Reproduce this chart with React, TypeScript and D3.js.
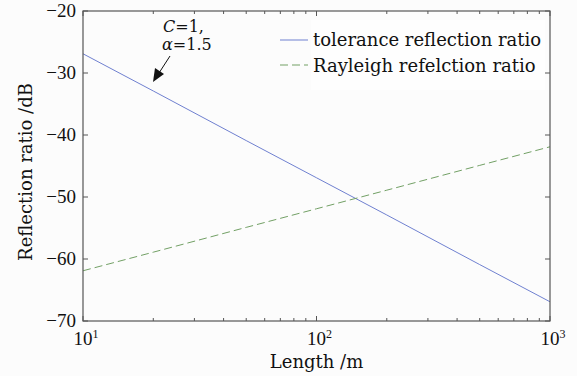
import * as d3 from 'd3';

const lengths = [10, 20, 50, 100, 200, 500, 1000];
const toleranceRatio = [-26.9, -32.9, -40.9, -46.9, -52.9, -60.9, -66.9];
const rayleighRatio = [-61.9, -58.9, -54.9, -51.9, -48.9, -44.9, -41.9];
const yTicks = [-70, -60, -50, -40, -30, -20];
const xTicks = [10, 100, 1000];
const seriesNames = ['tolerance reflection ratio', 'Rayleigh refelction ratio'];

const W = 577;
const H = 376;
const m = { left: 83, right: 27, top: 11, bottom: 55 };
const font = "'DejaVu Serif', 'Liberation Serif', serif";
const numFont = "'Liberation Serif', 'DejaVu Serif', serif";

export default function App() {
  const x = d3.scaleLog().domain([10, 1000]).range([m.left, W - m.right]);
  const y = d3.scaleLinear().domain([-70, -20]).range([H - m.bottom, m.top]);

  const line = d3
    .line<number>()
    .x((_, i) => x(lengths[i]))
    .y((d) => y(d));

  const minor: number[] = [];
  for (let dec = 10; dec < 1000; dec *= 10) {
    for (let k = 2; k <= 9; k++) minor.push(dec * k);
  }

  const x0 = x.range()[0];
  const x1 = x.range()[1];
  const y0 = y.range()[0];
  const y1 = y.range()[1];
  const axisColor = '#555';
  const fs = 18;

  return (
    <svg
      width={W}
      height={H}
      style={{ position: 'absolute', left: 0, top: 0, background: '#fcfcfc', fontFamily: font }}
    >
      <rect x={0} y={0} width={W} height={H} fill="#fcfcfc" />

      {/* legend backdrop */}
      <rect x={311} y={20} width={234} height={70} fill="#fefefe" />

      {/* series */}
      <path d={line(toleranceRatio) ?? ''} fill="none" stroke="#6f80d0" strokeWidth={1} />
      <path
        d={line(rayleighRatio) ?? ''}
        fill="none"
        stroke="#72a065"
        strokeWidth={1}
        strokeDasharray="8,4"
      />

      {/* frame */}
      <rect x={x0} y={y1} width={x1 - x0} height={y0 - y1} fill="none" stroke={axisColor} strokeWidth={1.2} />

      {/* y ticks */}
      {yTicks.map((t) => (
        <g key={'y' + t}>
          <line x1={x0} x2={x0 + 5} y1={y(t)} y2={y(t)} stroke={axisColor} />
          <line x1={x1} x2={x1 - 5} y1={y(t)} y2={y(t)} stroke={axisColor} />
          <text
            x={x0 - 7}
            y={y(t) + 6}
            textAnchor="end"
            fontSize={19}
            fill="#111"
            style={{ fontFamily: numFont }}
          >
            {'\u2212' + Math.abs(t)}
          </text>
        </g>
      ))}

      {/* x ticks */}
      {xTicks.map((t) => (
        <g key={'x' + t}>
          <line x1={x(t)} x2={x(t)} y1={y0} y2={y0 - 5} stroke={axisColor} />
          <line x1={x(t)} x2={x(t)} y1={y1} y2={y1 + 5} stroke={axisColor} />
          <text
            x={x(t) + 3}
            y={y0 + 24}
            textAnchor="middle"
            fontSize={19}
            fill="#111"
            style={{ fontFamily: numFont }}
          >
            10
            <tspan dy={-7} fontSize={12}>
              {Math.round(Math.log10(t))}
            </tspan>
          </text>
        </g>
      ))}
      {minor.map((t) => (
        <g key={'m' + t}>
          <line x1={x(t)} x2={x(t)} y1={y0} y2={y0 - 3} stroke={axisColor} />
          <line x1={x(t)} x2={x(t)} y1={y1} y2={y1 + 3} stroke={axisColor} />
        </g>
      ))}

      {/* axis labels */}
      <text x={(x0 + x1) / 2} y={368} textAnchor="middle" fontSize={fs} fill="#111">
        Length /m
      </text>
      <text
        transform={`translate(32,172) rotate(-90)`}
        textAnchor="middle"
        fontSize={fs}
        fill="#111"
      >
        Reflection ratio /dB
      </text>

      {/* legend */}
      {seriesNames.map((name, i) => (
        <g key={name}>
          <line
            x1={280}
            x2={308}
            y1={40 + i * 25}
            y2={40 + i * 25}
            stroke={i === 0 ? '#6f80d0' : '#72a065'}
            strokeDasharray={i === 0 ? undefined : '8,4'}
          />
          <text x={313} y={46 + i * 26} fontSize={fs} fill="#111">
            {name}
          </text>
        </g>
      ))}

      {/* annotation */}
      <text x={163} y={32} fontSize={16} fill="#111">
        <tspan fontStyle="italic">C</tspan>=1,
      </text>
      <text x={162} y={50} fontSize={16} fill="#111">
        <tspan fontStyle="italic">α</tspan>=1.5
      </text>
      <line x1={170} y1={56} x2={159} y2={73} stroke="#111" strokeWidth={1} />
      <path d="M153,82 L155,68 L164,74 Z" fill="#111" />
    </svg>
  );
}
